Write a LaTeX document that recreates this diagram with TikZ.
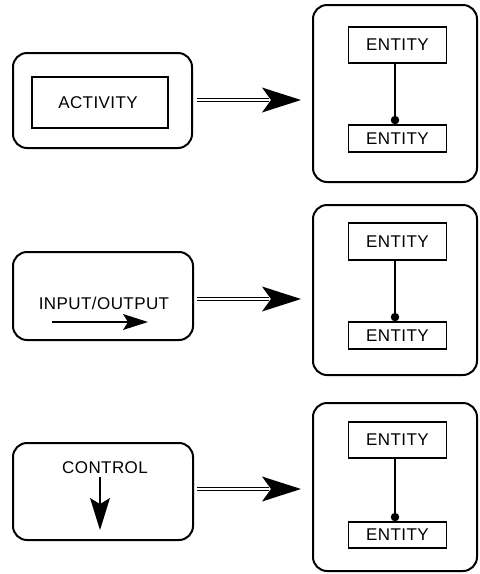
\documentclass[tikz,border=0pt]{standalone}
\usepackage{fontspec}
\setmainfont{Liberation Sans}
\newfontfamily\labfont[LetterSpace=2.5]{Liberation Sans}
\usetikzlibrary{calc}
\begin{document}
\begin{tikzpicture}[x=1pt,y=-1pt,
  outer/.style={draw,line width=2pt,rounded corners=14pt,inner sep=0pt},
  inner/.style={draw,line width=1.8pt,inner sep=0pt},
  ent/.style={draw,line width=1.8pt,minimum width=98pt,inner sep=0pt,font=\labfont\fontsize{17}{20}\selectfont},
  lbl/.style={inner sep=0pt,font=\labfont\fontsize{17}{20}\selectfont},
  link/.style={line width=1.5pt},
  dotend/.style={fill,circle,minimum size=8.5pt,inner sep=0pt},
  dbl/.style={line width=1.6pt,double distance=1.5pt},
  head/.style={fill=black}]
\useasboundingbox (0,0) rectangle (480,574);
% left boxes
\node[outer,minimum width=179pt,minimum height=95pt] (L1) at (102.5,100.5) {};
\node[inner,minimum width=136pt,minimum height=51pt] (A1) at (100,102.5) {};
\node[lbl] (T1) at (98,102.5) {ACTIVITY};
\node[outer,minimum width=180pt,minimum height=88pt] (L2) at (103,296) {};
\node[lbl] (T2) at (104,303) {INPUT/OUTPUT};
\coordinate (io1) at (52,322);
\coordinate (io2) at (148,322);
\draw[line width=2.6pt] (io1) -- ($(io2)+(-20,0)$);
\fill (io2) -- ($(io2)+(-25,-8)$) -- ($(io2)+(-20,0)$) -- ($(io2)+(-25,8)$) -- cycle;
\node[outer,minimum width=180pt,minimum height=97pt] (L3) at (103,491.5) {};
\node[lbl] (T3) at (105,468) {CONTROL};
\coordinate (c1) at (100,477);
\coordinate (c2) at (100,530);
\draw[line width=2.6pt] (c1) -- ($(c2)+(0,-25)$);
\fill (c2) -- ($(c2)+(-10,-32)$) -- ($(c2)+(0,-26)$) -- ($(c2)+(10,-32)$) -- cycle;
% right boxes
\node[outer,minimum width=164pt,minimum height=177pt] (R1) at (395,93.5) {};
\node[ent,minimum height=36pt] (E1a) at (397.5,45) {ENTITY};
\node[ent,minimum height=27pt] (E1b) at (397.5,138.5) {ENTITY};
\node[outer,minimum width=164pt,minimum height=170pt] (R2) at (395,290) {};
\node[ent,minimum height=37pt] (E2a) at (397.5,241.5) {ENTITY};
\node[ent,minimum height=27pt] (E2b) at (397.5,335.5) {ENTITY};
\node[outer,minimum width=164pt,minimum height=168pt] (R3) at (395,487) {};
\node[ent,minimum height=36pt] (E3a) at (397.5,440) {ENTITY};
\node[ent,minimum height=26pt] (E3b) at (397.5,535) {ENTITY};
% entity links
\foreach \a/\b in {E1a/E1b,E2a/E2b,E3a/E3b}{
  \node[dotend] (d\b) at ($(\b.north)+(-2.5,-4)$) {};
  \draw[link] ($(\a.south)+(-2.5,0)$) -- (d\b.center);
}
% double arrows
\foreach \s/\t/\y in {L1/R1/100,L2/R2/299,L3/R3/489}{
  \coordinate (s\s) at (197,\y);
  \coordinate (t\s) at (301,\y);
  \draw[dbl] (s\s) -- ($(t\s)+(-32,0)$);
  \fill[head] (t\s) -- ($(t\s)+(-39,-12.5)$) -- ($(t\s)+(-30,0)$) -- ($(t\s)+(-39,12.5)$) -- cycle;
}
\end{tikzpicture}
\end{document}
